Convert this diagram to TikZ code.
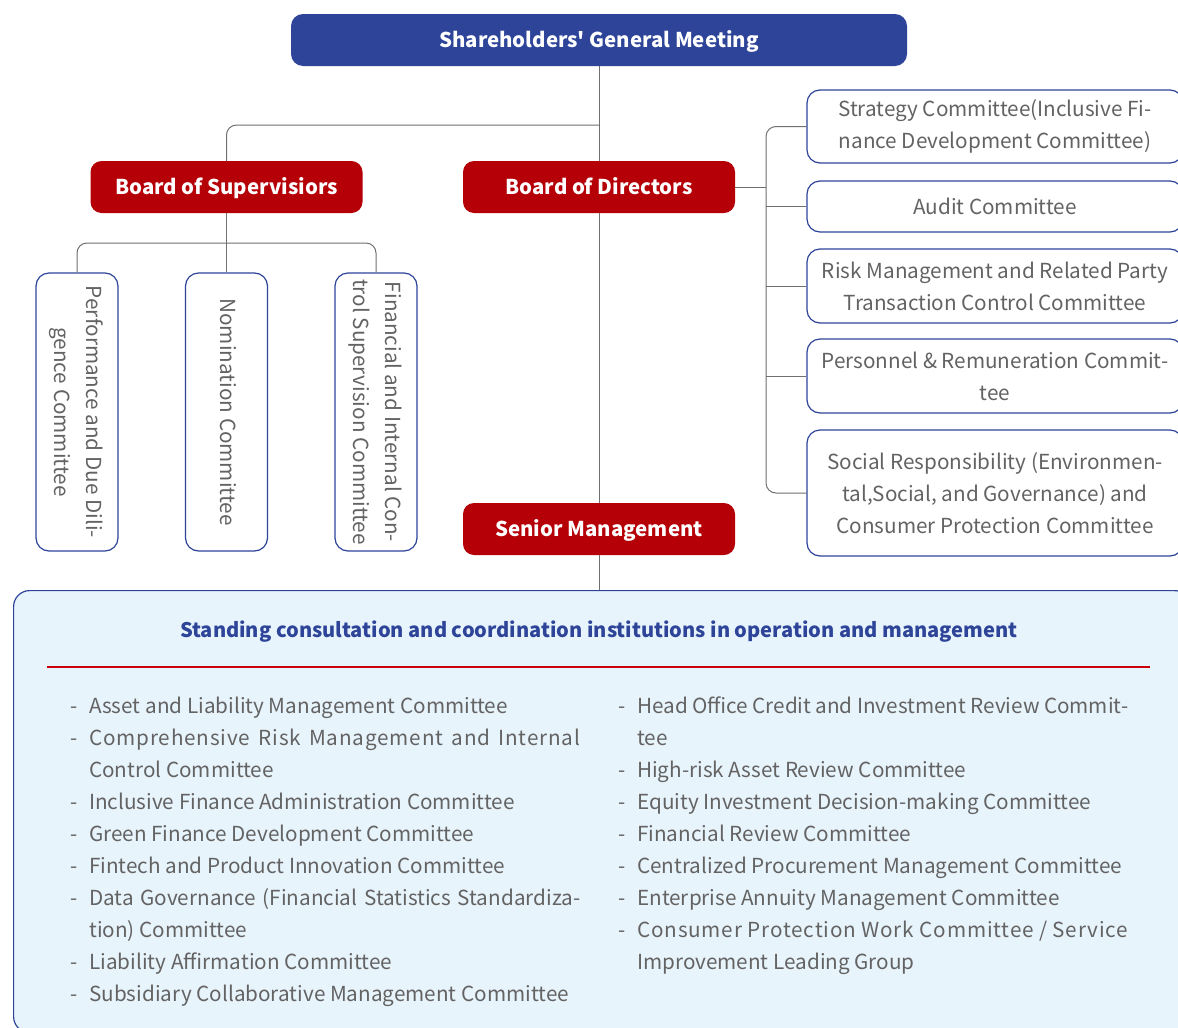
\documentclass[tikz,border=0pt]{standalone}
\usepackage{fontspec}
\usepackage{graphicx}
\newfontfamily\orgfont{Noto Sans CJK SC}

\definecolor{sgmblue}{HTML}{2D4499}
\definecolor{boardred}{HTML}{B50007}
\definecolor{txtgray}{HTML}{636363}
\definecolor{linegray}{HTML}{707070}
\definecolor{panelblue}{HTML}{E8F4FC}
\definecolor{rulered}{HTML}{C8000A}

\newcommand{\dashitem}{\leavevmode\llap{-\hspace{12pt}}}
\newcommand{\spreadline}[2]{\makebox[491pt][s]{\addfontfeature{LetterSpace=#1}#2}}

\begin{document}
\begin{tikzpicture}[x=1pt, y=-1pt,
	every node/.style={font=\orgfont\fontsize{20.7}{32}\selectfont, inner sep=0pt},
	headbox/.style={fill=sgmblue, text=white, font=\orgfont\fontsize{20.4}{32}\selectfont\bfseries, text height=18pt, text depth=2.6pt, rounded corners=12pt, minimum width=616pt, minimum height=52pt},
	boardbox/.style={fill=boardred, text=white, font=\orgfont\fontsize{20.4}{32}\selectfont\bfseries, text height=18pt, text depth=2.6pt, rounded corners=11pt, minimum width=272pt, minimum height=52pt},
	combox/.style={draw=sgmblue, line width=1.2pt, fill=white, rounded corners=13pt, text=txtgray, align=center, minimum width=376pt},
	vertbox/.style={draw=sgmblue, line width=1.2pt, fill=white, rounded corners=13pt, text=txtgray, minimum width=82pt, minimum height=278pt},
	link/.style={draw=linegray, line width=1pt}]
	\clip (0,0) rectangle (1178,1028);
	\fill[white] (0,0) rectangle (1178,1028);
	\node[headbox] (Shareholders) at (599,40) {Shareholders' General Meeting};
	\node[boardbox] (Board of Supervisors) at (226.5,187) {Board of Supervisiors};
	\node[boardbox] (Board of Directors) at (599,187) {Board of Directors};
	\node[boardbox] (Senior Management) at (599,529) {Senior Management};
	\node[vertbox] (Performance) at (77,412) {\rotatebox{-90}{\begin{tabular}{@{}c@{}}Performance and Due Dili-\\gence Committee\end{tabular}}};
	\node[vertbox] (Nomination) at (226.5,412) {\rotatebox{-90}{\begin{tabular}{@{}c@{}}Nomination Committee\end{tabular}}};
	\node[vertbox] (Financial) at (376,412) {\rotatebox{-90}{\begin{tabular}{@{}c@{}}Financial and Internal Con-\\trol Supervision Committee\end{tabular}}};
	\node[combox, minimum height=73pt] (Strategy) at (995,126.5) {Strategy Committee(Inclusive Fi-\\nance Development Committee)};
	\node[combox, minimum height=51pt] (Audit) at (995,206.5) {Audit Committee};
	\node[combox, minimum height=74pt] (Risk) at (995,286) {Risk Management and Related Party\\Transaction Control Committee};
	\node[combox, minimum height=74pt] (Personnel) at (995,376) {Personnel \& Remuneration Commit-\\tee};
	\node[combox, minimum height=126pt] (Social) at (995,493) {Social Responsibility (Environmen-\\tal,Social, and Governance) and\\Consumer Protection Committee};
	\node[draw=sgmblue, fill=panelblue, line width=1.2pt, rounded corners=16pt, minimum width=1177pt, minimum height=442pt, anchor=north west] (Standing) at (13,590) {};
	\node[font=\orgfont\fontsize{20.1}{32}\selectfont\bfseries, text=sgmblue] (Standing title) at (599,631.5) {Standing consultation and coordination institutions in operation and management};
	\draw[draw=rulered, line width=1.2pt] (47,667) -- (1150,667);
	\node[text=txtgray, anchor=base west] (Left list) at (89,713) {\parbox[t]{500pt}{\raggedright
		\dashitem Asset and Liability Management Committee\\
		\dashitem\spreadline{4}{Comprehensive Risk Management and Internal}\\
		Control Committee\\
		\dashitem Inclusive Finance Administration Committee\\
		\dashitem Green Finance Development Committee\\
		\dashitem Fintech and Product Innovation Committee\\
		\dashitem\spreadline{0}{Data Governance (Financial Statistics Standardiza-}\\
		tion) Committee\\
		\dashitem Liability Affirmation Committee\\
		\dashitem Subsidiary Collaborative Management Committee}};
	\node[text=txtgray, anchor=base west] (Right list) at (637,713) {\parbox[t]{500pt}{\raggedright
		\dashitem\spreadline{0}{Head Office Credit and Investment Review Commit-}\\
		tee\\
		\dashitem High-risk Asset Review Committee\\
		\dashitem Equity Investment Decision-making Committee\\
		\dashitem Financial Review Committee\\
		\dashitem Centralized Procurement Management Committee\\
		\dashitem Enterprise Annuity Management Committee\\
		\dashitem\spreadline{4}{Consumer Protection Work Committee / Service}\\
		Improvement Leading Group}};
	\coordinate (sup split) at (599,125);
	\coordinate (sup fork) at (228,243);
	\coordinate (dir bus) at (766,187);
	\draw[link] (Shareholders) -- (Board of Directors);
	\draw[link] (Board of Directors) -- (Senior Management);
	\draw[link] (Senior Management.south) -- (Senior Management.south |- Standing.north);
	\draw[link, rounded corners=10pt] (sup split) -| (Board of Supervisors);
	\draw[link] (Board of Supervisors) -- (Nomination);
	\draw[link, rounded corners=10pt] (Performance) |- (sup fork) -| (Financial);
	\draw[link] (Board of Directors) -- (dir bus);
	\draw[link, rounded corners=10pt] (Strategy) -| (dir bus) |- (Social);
	\draw[link] (Audit) -- (Audit -| dir bus);
	\draw[link] (Risk) -- (Risk -| dir bus);
	\draw[link] (Personnel) -- (Personnel -| dir bus);
\end{tikzpicture}
\end{document}
